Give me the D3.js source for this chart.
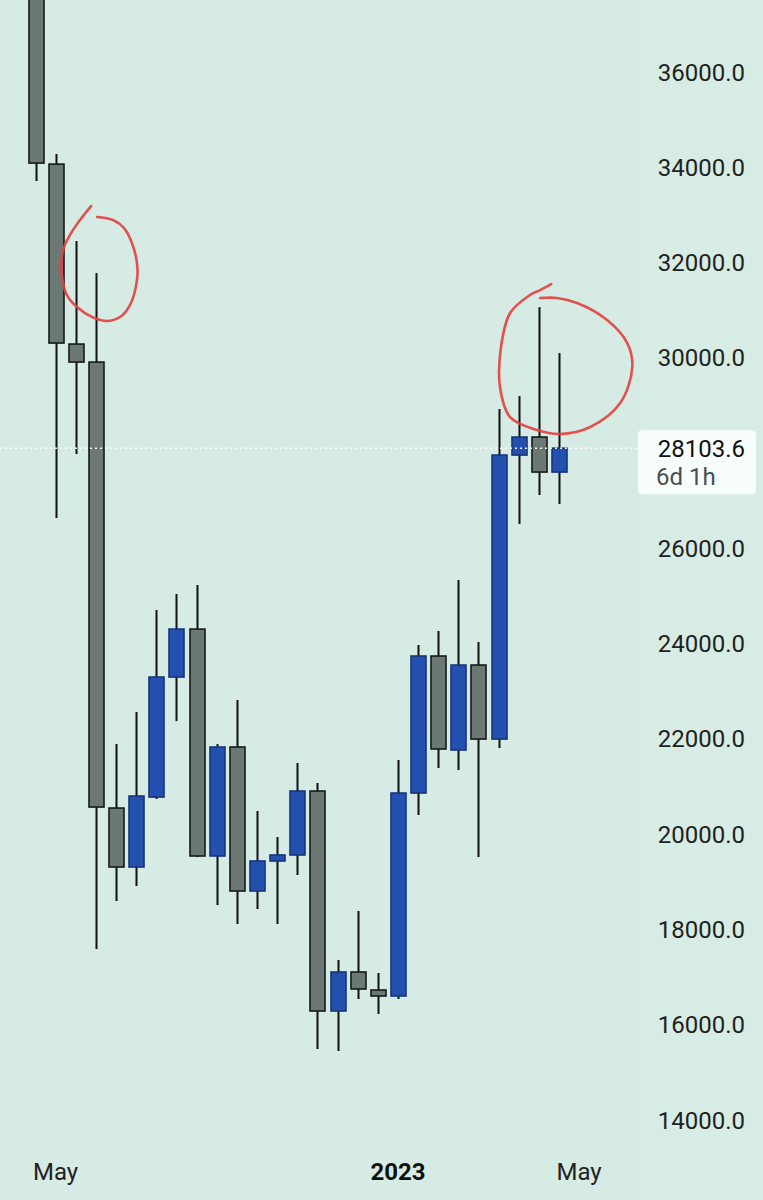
<!DOCTYPE html>
<html>
<head>
<meta charset="utf-8">
<script src="https://cdn.jsdelivr.net/npm/d3@7/dist/d3.min.js"></script>
<style>
  html, body { margin: 0; padding: 0; background: #d6ebe3; }
  svg { display: block; }
</style>
</head>
<body>
<svg id="chart" width="763" height="1200"></svg>
<script>
// ---- data (biweekly candles) ----
const candleIndex = d3.range(27);
const opens  = [38600, 34067, 30289, 29911, 20549, 19311, 20780, 23299, 24306, 19542, 21830, 18807, 19437, 19563, 20906, 16288, 17107, 16729, 16603, 20864, 23740, 21767, 23551, 21997, 27959, 28337, 27602];
const highs  = [40300, 34277, 32451, 31779, 21892, 22564, 24705, 25041, 25230, 21892, 22816, 20486, 19940, 21494, 21074, 17359, 18387, 17086, 21557, 23971, 24265, 25335, 24034, 28925, 29197, 31065, 30100];
const lows   = [33710, 26636, 27980, 17589, 18597, 18912, 20738, 22375, 19520, 18513, 18114, 18429, 18114, 19143, 15490, 15448, 16540, 16225, 16540, 20402, 21389, 21347, 19520, 21809, 26511, 27119, 26930];
const closes = [34088, 30310, 29911, 20570, 19311, 20801, 23299, 24306, 19542, 21830, 18807, 19437, 19563, 20906, 16288, 17107, 16750, 16603, 20864, 23740, 21788, 23551, 21997, 27959, 28337, 27602, 28103.6];

const priceTicks = [36000, 34000, 32000, 30000, 26000, 24000, 22000, 20000, 18000, 16000, 14000];
const timeTickIndex  = [1, 18, 27];
const timeTickLabels = ["May", "2023", "May"];
const lastPrice = 28103.6;
const countdown = "6d 1h";

// hand-drawn annotation loops, in (candle index, price)
const circle1 = [[2.76,33186],[2.21,32892],[1.71,32577],[1.37,32262],[1.32,31695],[1.56,31318],[2.06,31066],[2.81,30856],[3.55,30772],[4.20,30856],[4.69,31107],[5.04,31632],[5.04,31989],[4.79,32409],[4.40,32724],[3.85,32892],[3.06,32955]];
const circle2 = [[25.61,31548],[25.06,31422],[24.56,31318],[23.57,30940],[23.12,30226],[23.07,29386],[23.57,28757],[24.91,28484],[26.06,28400],[27.55,28547],[29.04,29050],[29.64,29806],[29.39,30310],[28.39,30793],[26.90,31150],[25.91,31255],[25.06,31255]];

// ---- layout ----
const W = 763, H = 1200;
const plotRight = 638;
const svg = d3.select("#chart");

const x = d3.scaleLinear().domain([0, 26]).range([35.5, 559]);
const y = d3.scaleLinear().domain([14000, 36000]).range([1120, 72]);

const candles = candleIndex.map(i => ({i, o: opens[i], h: highs[i], l: lows[i], c: closes[i]}));

// background
svg.append("rect").attr("width", W).attr("height", H).attr("fill", "#d6ebe3");
svg.append("rect").attr("x", plotRight).attr("width", W - plotRight).attr("height", H).attr("fill", "#d7ece4");
svg.append("line").attr("x1", plotRight + 0.5).attr("x2", plotRight + 0.5).attr("y1", 0).attr("y2", H)
  .attr("stroke", "#d2e7df").attr("stroke-width", 1);

const bodyW = 15;
const bull = "#2450b0", bullEdge = "#17357a";
const bear = "#6b7874", bearEdge = "#151a19";

const g = svg.append("g");
const cg = g.selectAll("g.c").data(candles).enter().append("g").attr("class", "c");
cg.append("line")
  .attr("x1", d => Math.round(x(d.i)) + 0.5).attr("x2", d => Math.round(x(d.i)) + 0.5)
  .attr("y1", d => y(d.h)).attr("y2", d => y(d.l))
  .attr("stroke", "#111").attr("stroke-width", 2);
cg.append("rect")
  .attr("x", d => Math.round(x(d.i)) + 0.5 - bodyW / 2)
  .attr("width", bodyW)
  .attr("y", d => y(Math.max(d.o, d.c)))
  .attr("height", d => Math.max(1, Math.abs(y(d.o) - y(d.c))))
  .attr("fill", d => d.c >= d.o ? bull : bear)
  .attr("stroke", d => d.c >= d.o ? bullEdge : bearEdge)
  .attr("stroke-width", 1.6);

// last price dotted line
svg.append("line")
  .attr("x1", 0).attr("x2", plotRight).attr("y1", y(lastPrice)).attr("y2", y(lastPrice))
  .attr("stroke", "#ffffff").attr("stroke-width", 1.5).attr("stroke-dasharray", "2,3").attr("opacity", 0.9);

// price axis labels
svg.append("g").selectAll("text").data(priceTicks).enter().append("text")
  .attr("x", 745).attr("y", d => y(d) + 8.5)
  .attr("text-anchor", "end")
  .attr("font-family", "Roboto, 'Noto Sans', sans-serif")
  .attr("font-size", 24).attr("fill", "#1e2221")
  .text(d => d.toFixed(1));

// last price label box
const ly = y(lastPrice);
svg.append("rect").attr("x", plotRight).attr("y", ly - 18).attr("width", 118).attr("height", 64)
  .attr("rx", 4).attr("fill", "#f7fdfb");
svg.append("text").attr("x", 745).attr("y", ly + 9).attr("text-anchor", "end")
  .attr("font-family", "Roboto, 'Noto Sans', sans-serif").attr("font-size", 24).attr("fill", "#111")
  .text(lastPrice.toFixed(1));
svg.append("text").attr("x", 656).attr("y", ly + 37)
  .attr("font-family", "Roboto, 'Noto Sans', sans-serif").attr("font-size", 24).attr("fill", "#4a4f4e")
  .text(countdown);

// time axis labels
svg.append("g").selectAll("text").data(timeTickIndex).enter().append("text")
  .attr("x", d => x(d)).attr("y", 1180)
  .attr("text-anchor", "middle")
  .attr("font-family", "Roboto, 'Noto Sans', sans-serif")
  .attr("font-size", 24)
  .attr("font-weight", (d, k) => timeTickLabels[k] === "2023" ? 700 : 400)
  .attr("fill", (d, k) => timeTickLabels[k] === "2023" ? "#111" : "#222")
  .text((d, k) => timeTickLabels[k]);

// annotations
const loop = d3.line().x(p => x(p[0])).y(p => y(p[1])).curve(d3.curveCatmullRom.alpha(0.5));
[circle1, circle2].forEach(pts => {
  svg.append("path").attr("d", loop(pts)).attr("fill", "none")
    .attr("stroke", "#e2403f").attr("stroke-width", 2.6).attr("stroke-linecap", "round").attr("opacity", 0.9);
});
</script>
</body>
</html>
